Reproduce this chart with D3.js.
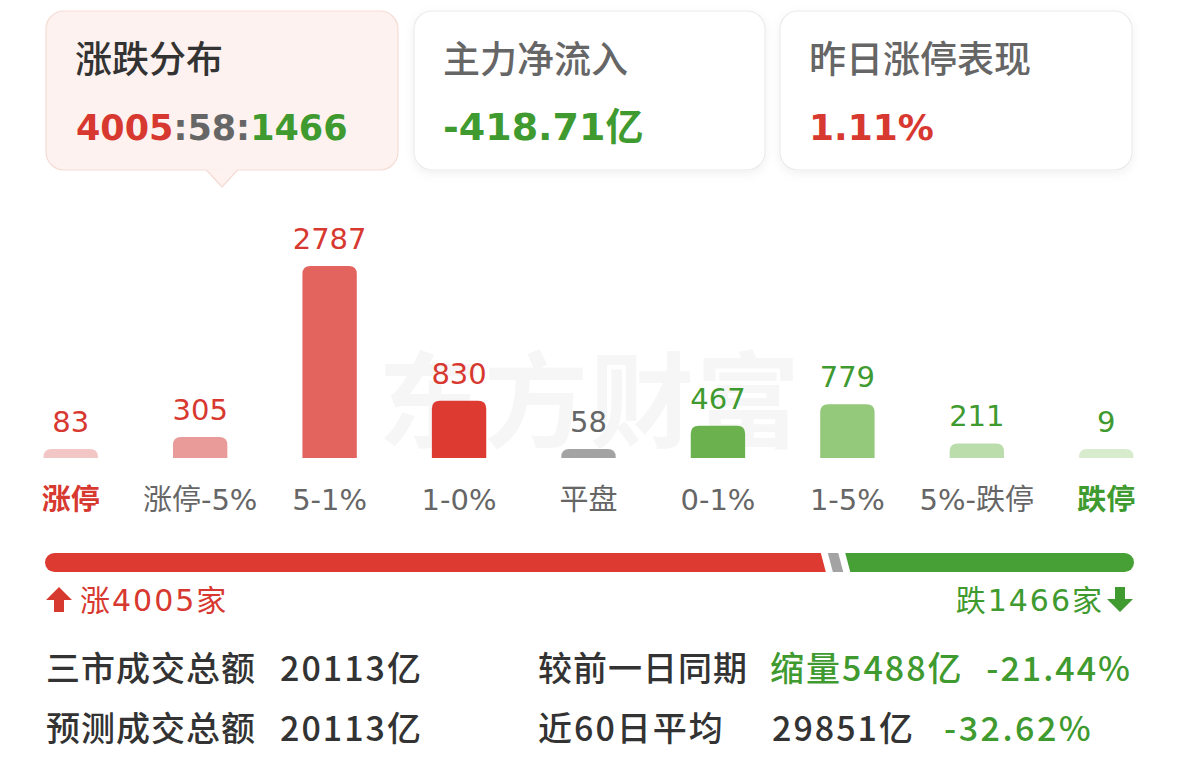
<!DOCTYPE html>
<html><head><meta charset="utf-8">
<script src="https://cdn.jsdelivr.net/npm/d3@7"></script>
<style>
html,body{margin:0;padding:0;background:#fff;}
svg{display:block;font-family:"Noto Sans CJK SC","Noto Sans",sans-serif;}
</style></head>
<body>
<svg id="c" width="1179" height="769"></svg>
<script>
// ---- data ----
const categories = ["涨停","涨停-5%","5-1%","1-0%","平盘","0-1%","1-5%","5%-跌停","跌停"];
const counts = [83,305,2787,830,58,467,779,211,9];
const barColors = ["#f3c6c6","#e99b99","#e3635e","#dd3b32","#a3a3a3","#6bb24e","#94c97c","#bbdcab","#d7ebcd"];
const labelColors = ["#d7382f","#d7382f","#d7382f","#d7382f","#666","#3f9a2f","#3f9a2f","#3f9a2f","#3f9a2f"];
const catColors = ["#d7382f","#666","#666","#666","#666","#666","#666","#666","#3f9a2f"];
const upCount = 4005, flatCount = 58, downCount = 1466;
const cardTitles = ["涨跌分布","主力净流入","昨日涨停表现"];
const netInflow = "-418.71亿";
const ydayLimitUp = "1.11%";
const statRows = [
  {label:"三市成交总额", value:"20113亿", label2:"较前一日同期", v2:"缩量5488亿", v3:"-21.44%"},
  {label:"预测成交总额", value:"20113亿", label2:"近60日平均", v2:"29851亿", v3:"-32.62%"}
];

const RED="#d7382f", GREEN="#3f9a2f", GRAY="#666", DARK="#333";
const NUMFONT = "'DejaVu Sans','Noto Sans CJK SC',sans-serif";
const svg = d3.select("#c");

// ---- cards ----
const cards = [{x:46,w:352,fill:"#fdf2ef",stroke:"#f5dcd5"},{x:414,w:351,fill:"#fff",stroke:"#ebebeb"},{x:780,w:352,fill:"#fff",stroke:"#ebebeb"}];
const defs = svg.append("defs");
const f = defs.append("filter").attr("id","sh").attr("x","-10%").attr("y","-10%").attr("width","120%").attr("height","130%");
f.append("feDropShadow").attr("dx",0).attr("dy",3).attr("stdDeviation",5).attr("flood-color","#000").attr("flood-opacity",0.06);

cards.forEach((c,i)=>{
  svg.append("rect").attr("x",c.x).attr("y",11).attr("width",c.w).attr("height",159).attr("rx",18)
    .attr("fill",c.fill).attr("stroke",c.stroke).attr("stroke-width",1.2).attr("filter",i?"url(#sh)":null);
  svg.append("text").attr("x",c.x+29).attr("y",73).attr("font-size",37).attr("font-weight",500)
    .attr("fill",i?GRAY:DARK).text(cardTitles[i]);
});
// pointer of first card
svg.append("path").attr("d","M206,169.5 L222,187 L238,169.5").attr("fill","#fdf2ef").attr("stroke","#f5dcd5").attr("stroke-width",1.2);
svg.append("rect").attr("x",205).attr("y",166).attr("width",34).attr("height",3.5).attr("fill","#fdf2ef");

const t1 = svg.append("text").attr("x",76).attr("y",140).attr("font-size",35).attr("font-weight",700).attr("font-family",NUMFONT);
t1.append("tspan").attr("fill",RED).text(upCount);
t1.append("tspan").attr("fill",GRAY).text(":"+flatCount+":");
t1.append("tspan").attr("fill",GREEN).text(downCount);
svg.append("text").attr("x",443).attr("y",140).attr("font-size",38).attr("font-weight",700).attr("font-family",NUMFONT).attr("fill",GREEN).text(netInflow);
svg.append("text").attr("x",809).attr("y",140).attr("font-size",36).attr("font-weight",700).attr("font-family",NUMFONT).attr("fill",RED).text(ydayLimitUp);

// watermark
svg.append("text").attr("x",590).attr("y",440).attr("text-anchor","middle").attr("font-size",104).attr("font-weight",700)
  .attr("fill","#f6f6f6").attr("letter-spacing",2).text("东方财富");

// ---- bars ----
const x = d3.scaleBand().domain(categories).range([6,1171]).paddingInner(0.58).paddingOuter(0.29);
const baseY = 458;
const y = d3.scaleLinear().domain([0, 2787]).range([0, 192]);
const minH = 9;
const bw = x.bandwidth();
const r = 8;
function barPath(x0, w, h){
  const rr = Math.min(r, h);
  return `M${x0},${baseY} V${baseY-h+rr} Q${x0},${baseY-h} ${x0+rr},${baseY-h} H${x0+w-rr} Q${x0+w},${baseY-h} ${x0+w},${baseY-h+rr} V${baseY} Z`;
}
const g = svg.append("g");
categories.forEach((c,i)=>{
  const h = Math.max(y(counts[i]), minH);
  g.append("path").attr("d", barPath(x(c), bw, h)).attr("fill", barColors[i]);
  g.append("text").attr("x", x(c)+bw/2).attr("y", baseY-h-17).attr("text-anchor","middle")
    .attr("font-size",29).attr("font-family",NUMFONT).attr("fill",labelColors[i]).text(counts[i]);
  g.append("text").attr("x", x(c)+bw/2).attr("y", 510).attr("text-anchor","middle")
    .attr("font-size",29).attr("font-family",NUMFONT).attr("font-weight",(i===0||i===8)?700:400).attr("fill",catColors[i]).text(c);
});

// ---- progress bar ----
const pb = {x0:45, x1:1134, y:553, h:19};
const total = upCount+flatCount+downCount;
const gap = 7, slant = 5, grayW = 10;
const px = d3.scaleLinear().domain([0,total]).range([0,pb.x1-pb.x0]);
const greenStart = pb.x1 - px(downCount);
const grayEnd = greenStart - gap;
const grayStart = grayEnd - Math.max(px(flatCount)-1, grayW);
const redEnd = grayStart - gap;
const ry = pb.h/2;
// red
svg.append("path").attr("d",`M${pb.x0+ry},${pb.y} H${redEnd} L${redEnd+slant},${pb.y+pb.h} H${pb.x0+ry} A${ry},${ry} 0 0 1 ${pb.x0+ry},${pb.y} Z`).attr("fill","#dd3b32");
// gray
svg.append("path").attr("d",`M${grayStart},${pb.y} H${grayEnd} L${grayEnd+slant},${pb.y+pb.h} H${grayStart+slant} Z`).attr("fill","#a3a3a3");
// green
svg.append("path").attr("d",`M${greenStart},${pb.y} H${pb.x1-ry} A${ry},${ry} 0 0 1 ${pb.x1-ry},${pb.y+pb.h} H${greenStart+slant} Z`).attr("fill","#46a035");

// arrows + labels
svg.append("path").attr("d","M59,587 L72,600 H64 V612 H54 V600 H46 Z").attr("fill",RED);
svg.append("text").attr("x",80).attr("y",611).attr("font-size",30).attr("font-family",NUMFONT).attr("letter-spacing",2).attr("fill",RED).text("涨"+upCount+"家");
svg.append("path").attr("d","M1120,612 L1133,599 H1125 V587 H1115 V599 H1107 Z").attr("fill",GREEN);
svg.append("text").attr("x",1104).attr("y",611).attr("text-anchor","end").attr("font-size",30).attr("font-family",NUMFONT).attr("letter-spacing",2).attr("fill",GREEN).text("跌"+downCount+"家");

// ---- stats ----
statRows.forEach((s,i)=>{
  const yy = 681 + i*60;
  const T = (xx, txt, col, ls, anchor) => svg.append("text").attr("x",xx).attr("y",yy).attr("font-size",34).attr("font-weight",500)
      .attr("letter-spacing",ls).attr("text-anchor",anchor||"start").attr("fill",col).text(txt);
  T(46, s.label, DARK, 1);
  T(280, s.value, DARK, 2);
  T(538, s.label2, DARK, i===0?1:2);
  if(i===0){
    T(770, s.v2, GREEN, 2);
    T(1132, s.v3, GREEN, 2, "end");
  } else {
    T(772, s.v2, DARK, 2);
    T(944, s.v3, GREEN, 2.5);
  }
});
</script>
</body></html>
